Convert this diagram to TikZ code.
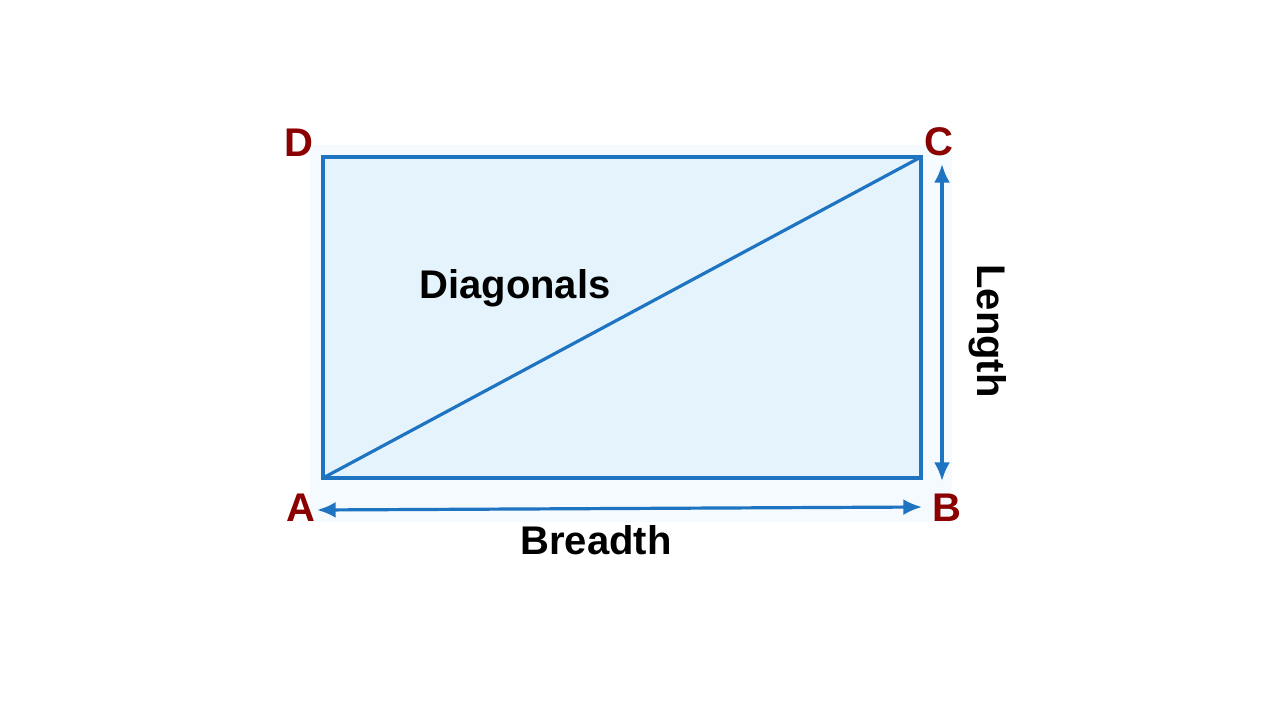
\documentclass[tikz,border=0pt]{standalone}
\usepackage{fontspec}
\setmainfont{Liberation Sans}
\usetikzlibrary{arrows.meta}
\definecolor{lineblue}{HTML}{1F74C2}
\definecolor{fillblue}{HTML}{E5F4FC}
\definecolor{panel}{HTML}{F4FAFE}
\definecolor{darkred}{HTML}{8B0000}
\tikzset{
  edge/.style={draw=lineblue, line width=2.4pt},
  dim/.style={draw=lineblue, line width=2.4pt, {Latex[length=14pt,width=12pt]}-{Latex[length=14pt,width=12pt]}},
  corner/.style={text=darkred, font=\fontsize{30}{30}\selectfont\bfseries, inner sep=0pt},
  lbl/.style={text=black, font=\fontsize{30}{30}\selectfont\bfseries, inner sep=0pt}
}
\begin{document}
\begin{tikzpicture}[x=0.75pt,y=-0.75pt]
\useasboundingbox (0,0) rectangle (1280,720);
\fill[white] (0,0) rectangle (1280,720);
\fill[panel] (310,145) rectangle (952,522);
\coordinate (A) at (323,478);
\coordinate (B) at (921,478);
\coordinate (C) at (921,157);
\coordinate (D) at (323,157);
\filldraw[edge, fill=fillblue] (A) -- (B) -- (C) -- (D) -- cycle;
\draw[edge] (A) -- (C);
\coordinate (bl) at (317,510);
\coordinate (br) at (922,507);
\draw[dim] (bl) -- (br);
\coordinate (lt) at (942,164);
\coordinate (lb) at (942,481);
\draw[dim] (lt) -- (lb);
\node[corner] (nA) at (301,508) {A};
\node[corner] (nB) at (947,508) {B};
\node[corner] (nC) at (939,142) {C};
\node[corner] (nD) at (299,143) {D};
\node[lbl] (diag) at (515,288) {Diagonals};
\node[lbl] (bre) at (596,540) {Breadth};
\node[lbl, rotate=-90] (len) at (988,331) {Length};
\end{tikzpicture}
\end{document}
